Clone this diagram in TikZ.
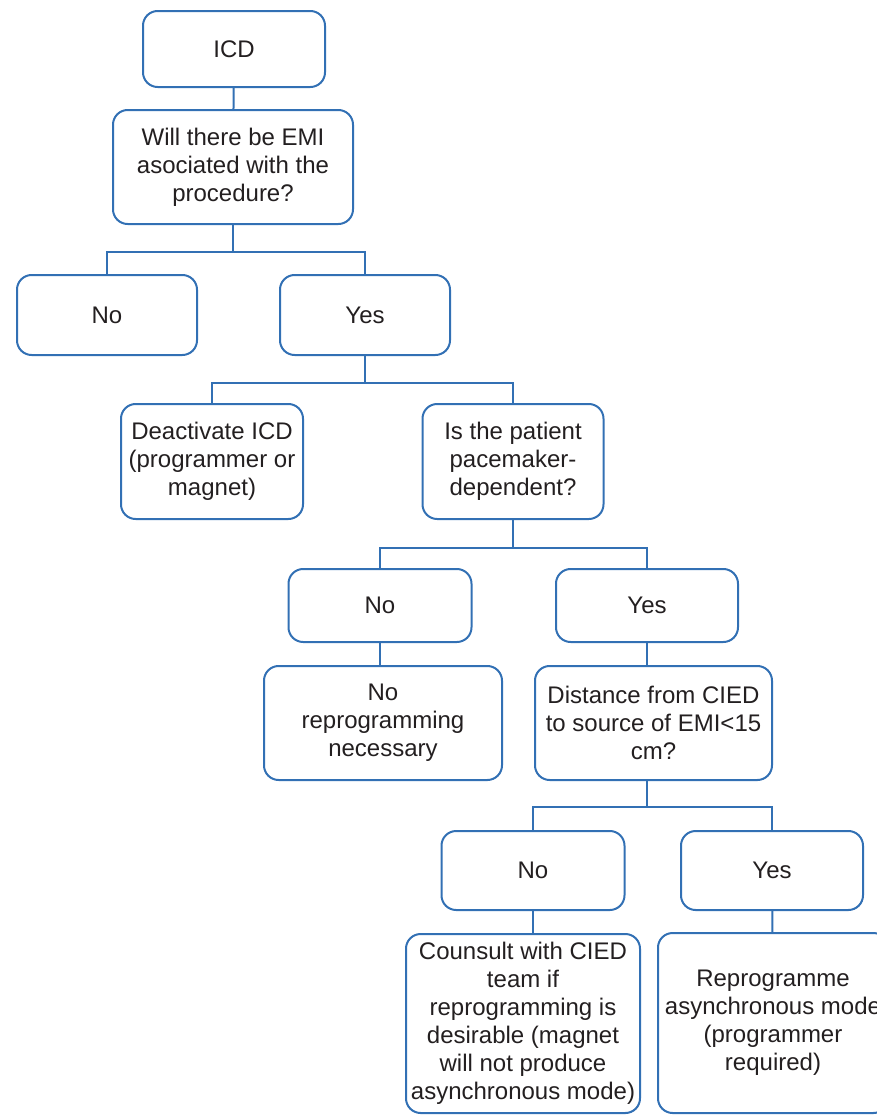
\documentclass[tikz,border=0pt]{standalone}
\usepackage{fontspec}
\setmainfont{Liberation Sans}
\usepackage{tikz}
\usetikzlibrary{positioning}

\definecolor{chartblue}{RGB}{50,112,180}
\definecolor{chartink}{RGB}{35,31,32}

\tikzset{
  box/.style={draw=chartblue, line width=1.5pt, rounded corners=11pt, align=center,
    inner sep=2pt, text=chartink, font=\fontsize{18}{21}\selectfont},
  link/.style={draw=chartblue, line width=1.5pt},
}

\begin{document}
\begin{tikzpicture}[x=0.75pt, y=-0.75pt]
        \useasboundingbox (0,0) rectangle (876,1115);

        \node[box, minimum width=136.5pt, minimum height=57pt]    (icd)   at (234,49)    {ICD};
        \node[box, minimum width=180pt,   minimum height=85.5pt]  (q1)    at (233,167)   {Will there be EMI\\asociated with the\\procedure?};
        \node[box, minimum width=135pt,   minimum height=60pt]    (no1)   at (107,315)   {No};
        \node[box, minimum width=127.5pt, minimum height=60pt]    (yes1)  at (365,315)   {Yes};
        \node[box, minimum width=136.5pt, minimum height=86.25pt] (deact) at (212,461.5) {Deactivate ICD\\(programmer or\\magnet)};
        \node[box, minimum width=135.75pt,minimum height=86.25pt] (ispat) at (513,461.5) {Is the patient\\pacemaker-\\dependent?};
        \node[box, minimum width=137.25pt,minimum height=54.75pt] (no2)   at (380,605.5) {No};
        \node[box, minimum width=136.5pt, minimum height=54.75pt] (yes2)  at (647,605.5) {Yes};
        \node[box, minimum width=178.5pt, minimum height=85.5pt]  (norep) at (383,723)   {No\\reprogramming\\necessary};
        \node[box, minimum width=177.75pt,minimum height=85.5pt]  (dist)  at (653.5,723) {Distance from CIED\\to source of EMI<15\\cm?};
        \node[box, minimum width=137.25pt,minimum height=59.25pt] (no3)   at (533,870.5) {No};
        \node[box, minimum width=136.5pt, minimum height=59.25pt] (yes3)  at (772,870.5) {Yes};
        \node[box, minimum width=175.5pt, minimum height=134.25pt](couns) at (523,1023.5) {Counsult with CIED\\team if\\reprogramming is\\desirable (magnet\\will not produce\\asynchronous mode)};
        \node[box, minimum width=172.5pt, minimum height=135pt]   (repro) at (773,1023)  {Reprogramme\\asynchronous mode\\(programmer\\required)};

        \coordinate[below=20pt of q1]    (fork1);
        \coordinate[below=20pt of yes1]  (fork2);
        \coordinate[below=21pt of ispat] (fork3);
        \coordinate[below=19.5pt of dist] (fork4);

        \draw[link] (icd) -- (q1);
        \draw[link] (q1) -- (fork1) -| (no1);
        \draw[link] (fork1) -| (yes1);
        \draw[link] (yes1) -- (fork2) -| (deact);
        \draw[link] (fork2) -| (ispat);
        \draw[link] (ispat) -- (fork3) -| (no2);
        \draw[link] (fork3) -| (yes2);
        \draw[link] (no2.south) -- (no2.south |- norep.north);
        \draw[link] (yes2.south) -- (yes2.south |- dist.north);
        \draw[link] (dist.south -| yes2.south) -- (fork4 -| yes2.south) -| (no3);
        \draw[link] (fork4 -| yes2.south) -| (yes3);
        \draw[link] (no3.south) -- (no3.south |- couns.north);
        \draw[link] (yes3) -- (repro);
      \end{tikzpicture}
\end{document}
